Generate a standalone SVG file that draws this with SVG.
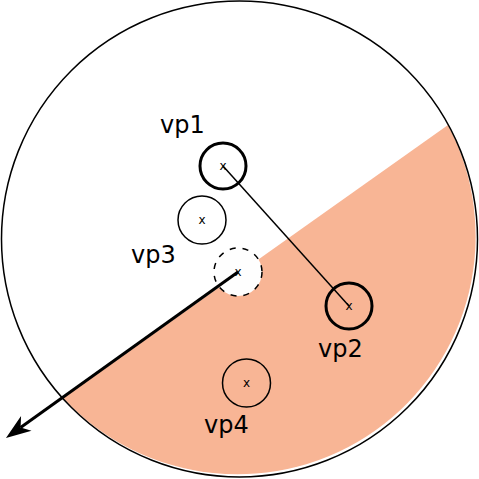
<svg xmlns="http://www.w3.org/2000/svg" width="479" height="479" viewBox="0 0 479 479">
  <style>
    .lbl { font-family: "DejaVu Sans", "Liberation Sans", sans-serif; font-size: 24px; fill: #000; }
    .mk { font-family: "DejaVu Sans", "Liberation Sans", sans-serif; font-size: 12px; fill: #000; text-anchor: middle; }
    .thin { fill: none; stroke: #000; stroke-width: 1.5; }
    .thick { fill: none; stroke: #000; stroke-width: 3; }
  </style>
  <defs>
    <marker id="arrow" viewBox="-30 -15 35 30" refX="-18" refY="0" markerWidth="35" markerHeight="30" markerUnits="userSpaceOnUse" orient="auto">
      <path d="M0,0 L-25,-9 L-18,0 L-25,9 Z" fill="#000"/>
    </marker>
  </defs>
  <rect width="479" height="479" fill="#fff"/>
  <g id="region">
    <path d="M448,125 A238 238 0 0 1 63,398 Z" fill="#f8b595"/>
    <circle cx="239.5" cy="239" r="238" fill="none" stroke="#000" stroke-width="1.5"/>
  </g>
  <g id="connectors">
    <line x1="223" y1="166" x2="349" y2="306" stroke="#000" stroke-width="1.5"/>
  </g>
  <g id="vp1">
    <circle class="thick" cx="223" cy="166" r="23"/>
    <text class="mk" x="223" y="169.5">x</text>
    <text class="lbl" x="160" y="133">vp1</text>
  </g>
  <g id="vp2">
    <circle class="thick" cx="349" cy="306" r="23"/>
    <text class="mk" x="349" y="309.5">x</text>
    <text class="lbl" x="318" y="357">vp2</text>
  </g>
  <g id="vp3">
    <circle class="thin" cx="202" cy="220" r="24"/>
    <text class="mk" x="202" y="223.5">x</text>
    <text class="lbl" x="131" y="263">vp3</text>
  </g>
  <g id="vp4">
    <circle class="thin" cx="246.5" cy="383" r="24"/>
    <text class="mk" x="246.5" y="386.5">x</text>
    <text class="lbl" x="204" y="433">vp4</text>
  </g>
  <g id="origin">
    <circle cx="238" cy="272" r="24" fill="#fefefe" stroke="#000" stroke-width="1.5" stroke-dasharray="6 7"/>
    <text class="mk" x="238" y="275.5">x</text>
  </g>
  <g id="arrow-connector">
    <line x1="238" y1="272" x2="20.6" y2="427.5" stroke="#000" stroke-width="3" marker-end="url(#arrow)"/>
  </g>
</svg>
